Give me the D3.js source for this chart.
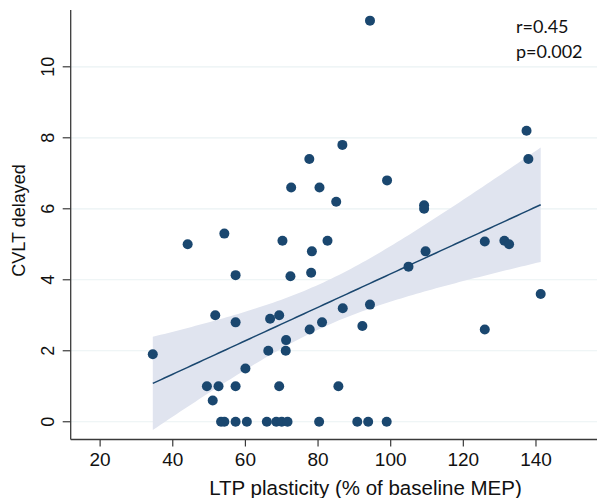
<!DOCTYPE html>
<html lang="en">
<head>
    <meta charset="UTF-8">
    <title>CVLT delayed vs LTP plasticity</title>
    <script src="https://d3js.org/d3.v7.min.js"></script>
    <style>
        body { margin: 0; background: #fff; }
        svg { display: block; }
    </style>
</head>
<body>
    <svg id="chart" width="597" height="498"></svg>
    <script>
        // LTP plasticity (% of baseline MEP)
        const ltp = [
            34.5, 44.1, 49.4, 51.0, 51.7, 52.6, 53.3, 54.2, 54.2, 57.3,
            57.3, 57.3, 57.3, 60.0, 60.4, 65.9, 66.3, 66.8, 68.5, 69.3,
            69.3, 70.0, 70.2, 71.1, 71.2, 71.6, 72.4, 72.6, 77.6, 77.7,
            78.1, 78.3, 80.3, 80.4, 81.1, 82.6, 85.0, 85.6, 86.7, 86.8,
            90.8, 92.2, 93.8, 94.3, 94.3, 98.9, 99.0, 104.9, 109.2, 109.2,
            109.6, 125.9, 125.9, 131.3, 132.6, 137.4, 137.9, 141.3
        ];
        // CVLT delayed recall, same order
        const cvlt = [
            1.9, 5.0, 1.0, 0.6, 3.0, 1.0, 0, 5.3, 0, 4.13,
            2.8, 1.0, 0, 1.5, 0, 0, 2.0, 2.9, 0, 3.0,
            1.0, 0, 5.1, 2.0, 2.3, 0, 4.1, 6.6, 7.4, 2.6,
            4.2, 4.8, 0, 6.6, 2.8, 5.1, 6.2, 1.0, 7.8, 3.2,
            0, 2.7, 0, 3.3, 11.3, 0, 6.8, 4.37, 6.1, 6.0,
            4.8, 5.08, 2.6, 5.1, 5.0, 8.2, 7.4, 3.6
        ];
        const xTicks = [20, 40, 60, 80, 100, 120, 140];
        const yTicks = [0, 2, 4, 6, 8, 10];
        const statLines = ["r=0.45", "p=0.002"];

        const svg = d3.select("#chart");
        const W = 597, H = 498;
        const plotLeft = 70.7, plotBottom = 439.5, plotTop = 10;

        const x = d3.scaleLinear().domain([11.9, 156.8]).range([plotLeft, W]);
        const y = d3.scaleLinear().domain([-0.5, 11.6]).range([plotBottom, plotTop]);

        const navy = "#1a476f";

        // horizontal grid
        svg.append("g")
            .selectAll("line")
            .data(yTicks)
            .enter().append("line")
            .attr("x1", plotLeft).attr("x2", W)
            .attr("y1", d => y(d)).attr("y2", d => y(d))
            .attr("stroke", "#eaf2f3")
            .attr("stroke-width", 1.2);

        // linear fit with 95% CI of the mean
        const n = ltp.length;
        const mx = d3.mean(ltp), my = d3.mean(cvlt);
        let sxx = 0, sxy = 0;
        for (let i = 0; i < n; i++) {
            sxx += (ltp[i] - mx) ** 2;
            sxy += (ltp[i] - mx) * (cvlt[i] - my);
        }
        const b = sxy / sxx, a = my - b * mx;
        let sse = 0;
        for (let i = 0; i < n; i++) sse += (cvlt[i] - a - b * ltp[i]) ** 2;
        const s = Math.sqrt(sse / (n - 2));
        const tcrit = 2.003;
        const [x0, x1] = d3.extent(ltp);
        const grid = d3.range(0, 101).map(k => x0 + (x1 - x0) * k / 100);
        const fit = grid.map(v => {
            const se = s * Math.sqrt(1 / n + (v - mx) ** 2 / sxx);
            const yh = a + b * v;
            return { x: v, y: yh, lo: yh - tcrit * se, hi: yh + tcrit * se };
        });

        svg.append("path")
            .datum(fit)
            .attr("fill", "#e0e4ef")
            .attr("d", d3.area().x(d => x(d.x)).y0(d => y(d.lo)).y1(d => y(d.hi)));

        svg.append("path")
            .datum(fit)
            .attr("fill", "none")
            .attr("stroke", navy)
            .attr("stroke-width", 1.5)
            .attr("d", d3.line().x(d => x(d.x)).y(d => y(d.y)));

        // points
        svg.append("g")
            .selectAll("circle")
            .data(ltp.map((v, i) => [v, cvlt[i]]))
            .enter().append("circle")
            .attr("cx", d => x(d[0]))
            .attr("cy", d => y(d[1]))
            .attr("r", 5)
            .attr("fill", navy);

        // axes
        const axisColor = "#3a3a3a";
        svg.append("line")
            .attr("x1", plotLeft).attr("x2", plotLeft).attr("y1", plotTop).attr("y2", plotBottom)
            .attr("stroke", axisColor).attr("stroke-width", 1.3);
        svg.append("line")
            .attr("x1", plotLeft).attr("x2", W).attr("y1", plotBottom).attr("y2", plotBottom)
            .attr("stroke", axisColor).attr("stroke-width", 1.3);

        const font = "'Liberation Sans', Arial, Helvetica, sans-serif";

        // y ticks + rotated labels
        const yt = svg.append("g");
        yt.selectAll("line").data(yTicks).enter().append("line")
            .attr("x1", plotLeft - 8).attr("x2", plotLeft)
            .attr("y1", d => y(d)).attr("y2", d => y(d))
            .attr("stroke", axisColor).attr("stroke-width", 1.2);
        yt.selectAll("text").data(yTicks).enter().append("text")
            .attr("transform", d => `translate(53.5,${y(d)}) rotate(-90)`)
            .attr("text-anchor", "middle")
            .style("font-family", font)
            .style("font-size", "18px")
            .attr("fill", "#111")
            .text(d => d);

        // x ticks + labels
        const xt = svg.append("g");
        xt.selectAll("line").data(xTicks).enter().append("line")
            .attr("x1", d => x(d)).attr("x2", d => x(d))
            .attr("y1", plotBottom).attr("y2", plotBottom + 7)
            .attr("stroke", axisColor).attr("stroke-width", 1.2);
        xt.selectAll("text").data(xTicks).enter().append("text")
            .attr("x", d => x(d))
            .attr("y", 466)
            .attr("text-anchor", "middle")
            .style("font-family", font)
            .style("font-size", "19px")
            .attr("fill", "#111")
            .text(d => d);

        // axis titles
        svg.append("text")
            .attr("x", 365.5).attr("y", 495)
            .attr("text-anchor", "middle")
            .style("font-family", font)
            .style("font-size", "20.5px")
            .attr("fill", "#111")
            .text("LTP plasticity (% of baseline MEP)");

        svg.append("text")
            .attr("transform", "translate(25,220.5) rotate(-90)")
            .attr("text-anchor", "middle")
            .style("font-family", font)
            .style("font-size", "18px")
            .attr("fill", "#111")
            .text("CVLT delayed");

        // correlation annotation
        svg.append("g")
            .selectAll("text")
            .data(statLines)
            .enter().append("text")
            .attr("x", 516)
            .attr("y", (d, i) => 33.3 + i * 25)
            .style("font-family", "Lato, 'Open Sans', sans-serif")
            .style("font-size", "18px")
            .attr("fill", "#111")
            .text(d => d);
    </script>
</body>
</html>
